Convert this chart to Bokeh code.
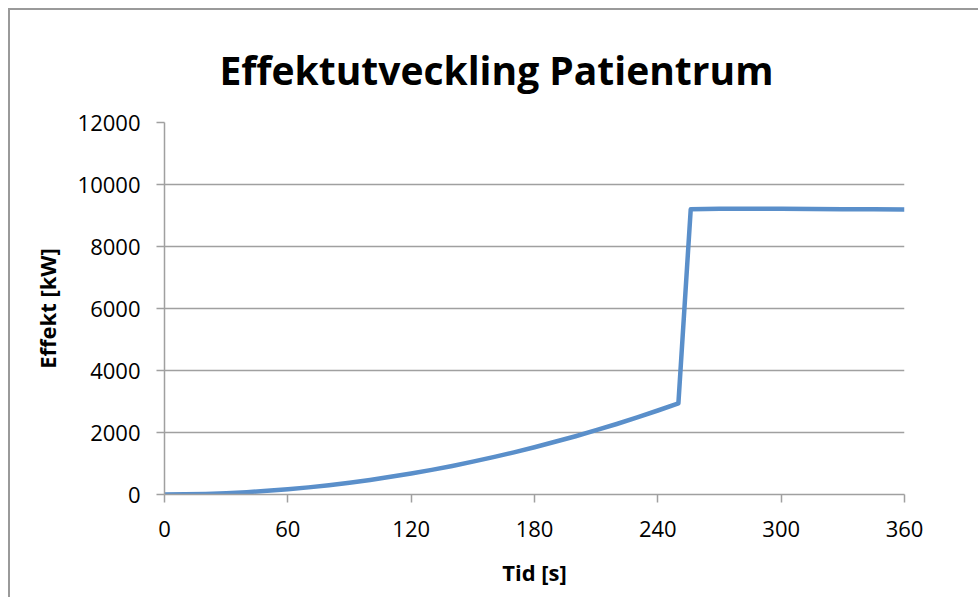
from bokeh.plotting import figure
from bokeh.embed import file_html
from bokeh.resources import INLINE
from bokeh.models import FixedTicker, Title

# data
time_s = [0, 10, 20, 30, 40, 50, 60, 70, 80, 90, 100, 110, 120, 130, 140, 150,
          160, 170, 180, 190, 200, 210, 220, 230, 240, 250, 256, 270, 285, 300,
          315, 330, 345, 360]
power_kw = [0, 5, 19, 42, 75, 118, 170, 230, 300, 380, 470, 570, 680, 795, 920,
            1060, 1205, 1360, 1525, 1700, 1880, 2075, 2275, 2490, 2710, 2940,
            9200, 9215, 9218, 9215, 9210, 9205, 9200, 9195]
x_ticks = [0, 60, 120, 180, 240, 300, 360]
y_ticks = [0, 2000, 4000, 6000, 8000, 10000, 12000]

title_text = "Effektutveckling Patientrum"
x_label = "Tid [s]"
y_label = "Effekt [kW]"

FONT = "Open Sans"
GRID = "#a0a0a0"
LINE = "#5a8fca"

p = figure(width=968, height=587, output_backend="svg", toolbar_location=None,
           x_range=(0, 360), y_range=(0, 12000),
           frame_width=740, frame_height=372,
           min_border_left=154, min_border_top=112,
           min_border_right=74, min_border_bottom=103,
           background_fill_color="white", border_fill_color="white",
           outline_line_color=None)

p.styles = {"margin-left": "8px", "margin-top": "8px",
            "border-left": "2px solid #9a9a9a", "border-top": "2px solid #9a9a9a"}

t = Title(text=title_text, align="left", text_font=FONT, text_font_size="39px",
          text_font_style="bold", text_color="black", standoff=53, offset=55)
p.add_layout(t, "above")

p.line(time_s, power_kw, line_color=LINE, line_width=4.5, line_join="round")

p.xaxis.ticker = FixedTicker(ticks=x_ticks)
p.yaxis.ticker = FixedTicker(ticks=y_ticks)

for ax in (p.xaxis, p.yaxis):
    ax.axis_line_color = GRID
    ax.axis_line_width = 1.5
    ax.major_tick_line_color = GRID
    ax.major_tick_line_width = 1.5
    ax.major_tick_out = 8
    ax.major_tick_in = 0
    ax.minor_tick_line_color = None
    ax.major_label_text_font = FONT
    ax.major_label_text_font_size = "22px"
    ax.major_label_text_color = "black"
    ax.axis_label_text_font = FONT
    ax.axis_label_text_font_size = "22px"
    ax.axis_label_text_font_style = "bold"
    ax.axis_label_text_color = "black"

p.xaxis.axis_label = x_label
p.yaxis.axis_label = y_label
p.xaxis.major_label_standoff = 18
p.yaxis.major_label_standoff = 16
p.xaxis.axis_label_standoff = 17
p.yaxis.axis_label_standoff = 13

p.xgrid.grid_line_color = None
p.ygrid.grid_line_color = GRID
p.ygrid.grid_line_width = 1.5

open("out.html", "w").write(file_html(p, INLINE))
